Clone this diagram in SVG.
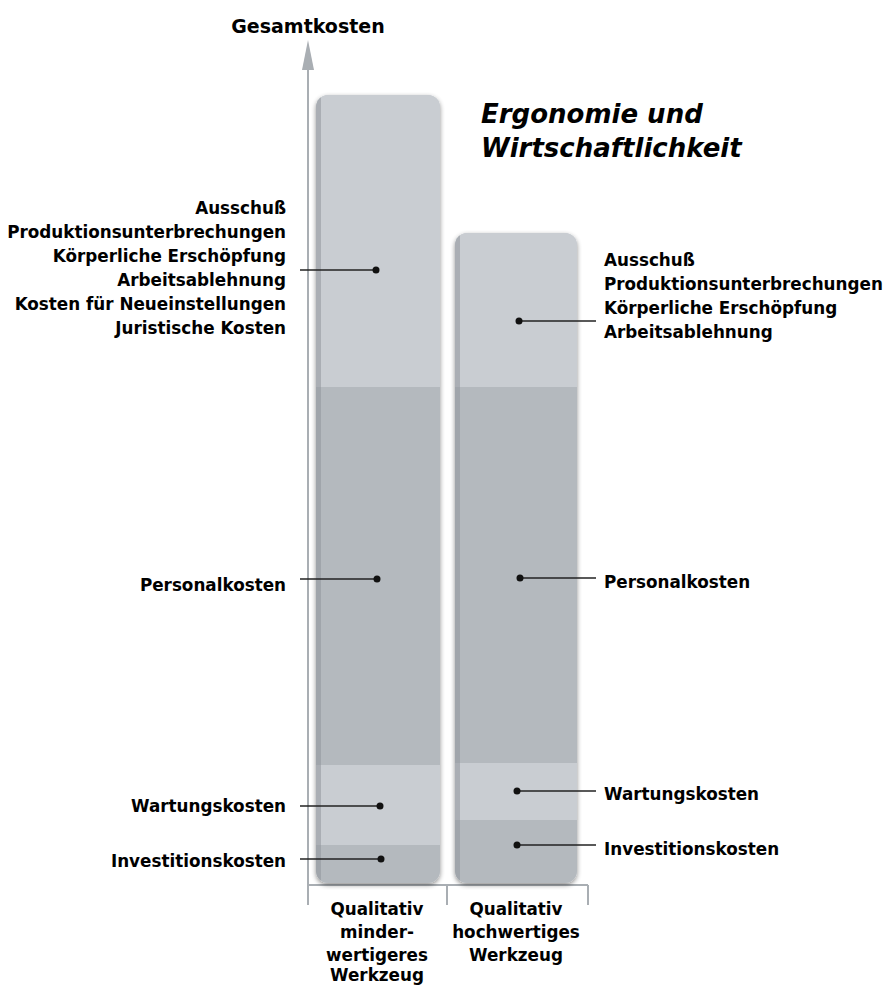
<svg xmlns="http://www.w3.org/2000/svg" width="891" height="985" viewBox="0 0 891 985">
<defs>
<style>
.t{font-family:"DejaVu Sans","Liberation Sans",sans-serif;font-weight:bold;font-size:16.8px;fill:#000}
.r{text-anchor:end}
.m{text-anchor:middle}
.ti{font-family:"DejaVu Sans","Liberation Sans",sans-serif;font-weight:bold;font-style:italic;font-size:26px;fill:#000}
.ax{stroke:#a9aeb3;stroke-width:2;fill:none}
.ld{stroke:#222;stroke-width:1.6;fill:none}
.dot{fill:#111}
.lt{fill:#c9cdd2}
.dk{fill:#b4b9be}
</style>
<filter id="sh" x="-20%" y="-5%" width="140%" height="110%">
<feGaussianBlur in="SourceAlpha" stdDeviation="2.5"/>
<feOffset dx="0" dy="2"/>
<feComponentTransfer><feFuncA type="linear" slope="0.45"/></feComponentTransfer>
<feMerge><feMergeNode/><feMergeNode in="SourceGraphic"/></feMerge>
</filter>
<clipPath id="c1"><rect x="316" y="95" width="124" height="788" rx="12"/></clipPath>
<clipPath id="c2"><rect x="455" y="233" width="122" height="650" rx="12"/></clipPath>
</defs>
<rect width="891" height="985" fill="#fff"/>
<g id="axes">
<line class="ax" x1="308" y1="62" x2="308" y2="905"/>
<polygon points="308,40 302,70 314,70" fill="#a9aeb3"/>
<line class="ax" x1="308" y1="885" x2="588" y2="885"/>
<line class="ax" x1="447" y1="885" x2="447" y2="905"/>
<line class="ax" x1="588" y1="885" x2="588" y2="905"/>
</g>
<text class="t m" x="308" y="33" style="font-size:19px">Gesamtkosten</text>
<g id="title">
<text class="ti" x="481" y="123">Ergonomie und</text>
<text class="ti" x="481" y="157">Wirtschaftlichkeit</text>
</g>
<g id="bar1">
<rect x="316" y="95" width="124" height="788" rx="12" fill="#c9cdd2" filter="url(#sh)"/>
<g clip-path="url(#c1)">
<rect class="lt" x="316" y="95" width="124" height="292"/>
<rect class="dk" x="316" y="387" width="124" height="378"/>
<rect class="lt" x="316" y="765" width="124" height="80"/>
<rect class="dk" x="316" y="845" width="124" height="40"/>
<rect x="316" y="95" width="5" height="790" fill="#8f959b" opacity="0.55"/>
</g>
</g>
<g id="bar2">
<rect x="455" y="233" width="122" height="650" rx="12" fill="#c9cdd2" filter="url(#sh)"/>
<g clip-path="url(#c2)">
<rect class="lt" x="455" y="233" width="122" height="154"/>
<rect class="dk" x="455" y="387" width="122" height="376"/>
<rect class="lt" x="455" y="763" width="122" height="57"/>
<rect class="dk" x="455" y="820" width="122" height="65"/>
<rect x="455" y="233" width="5" height="652" fill="#8f959b" opacity="0.55"/>
</g>
</g>
<g id="connectors">
<line class="ld" x1="300" y1="270" x2="376" y2="270"/><circle class="dot" cx="376" cy="270" r="3.5"/>
<line class="ld" x1="300" y1="579" x2="377" y2="579"/><circle class="dot" cx="377" cy="579" r="3.5"/>
<line class="ld" x1="300" y1="806" x2="380" y2="806"/><circle class="dot" cx="380" cy="806" r="3.5"/>
<line class="ld" x1="300" y1="859" x2="381" y2="859"/><circle class="dot" cx="381" cy="859" r="3.5"/>
<line class="ld" x1="519" y1="321" x2="596" y2="321"/><circle class="dot" cx="519" cy="321" r="3.5"/>
<line class="ld" x1="520" y1="578" x2="596" y2="578"/><circle class="dot" cx="520" cy="578" r="3.5"/>
<line class="ld" x1="517" y1="791" x2="596" y2="791"/><circle class="dot" cx="517" cy="791" r="3.5"/>
<line class="ld" x1="517" y1="845" x2="596" y2="845"/><circle class="dot" cx="517" cy="845" r="3.5"/>
</g>
<g id="labels-left">
<text class="t r" x="286" y="214">Ausschuß</text>
<text class="t r" x="286" y="238">Produktionsunterbrechungen</text>
<text class="t r" x="286" y="262">Körperliche Erschöpfung</text>
<text class="t r" x="286" y="286">Arbeitsablehnung</text>
<text class="t r" x="286" y="310">Kosten für Neueinstellungen</text>
<text class="t r" x="286" y="334">Juristische Kosten</text>
<text class="t r" x="286" y="591">Personalkosten</text>
<text class="t r" x="286" y="812">Wartungskosten</text>
<text class="t r" x="286" y="867">Investitionskosten</text>
</g>
<g id="labels-right">
<text class="t" x="604" y="266">Ausschuß</text>
<text class="t" x="604" y="290">Produktionsunterbrechungen</text>
<text class="t" x="604" y="314">Körperliche Erschöpfung</text>
<text class="t" x="604" y="338">Arbeitsablehnung</text>
<text class="t" x="604" y="588">Personalkosten</text>
<text class="t" x="604" y="800">Wartungskosten</text>
<text class="t" x="604" y="855">Investitionskosten</text>
</g>
<g id="labels-bottom">
<text class="t m" x="377" y="915">Qualitativ</text>
<text class="t m" x="377" y="938">minder-</text>
<text class="t m" x="377" y="961">wertigeres</text>
<text class="t m" x="377" y="981">Werkzeug</text>
<text class="t m" x="516" y="915">Qualitativ</text>
<text class="t m" x="516" y="938">hochwertiges</text>
<text class="t m" x="516" y="961">Werkzeug</text>
</g>
</svg>
